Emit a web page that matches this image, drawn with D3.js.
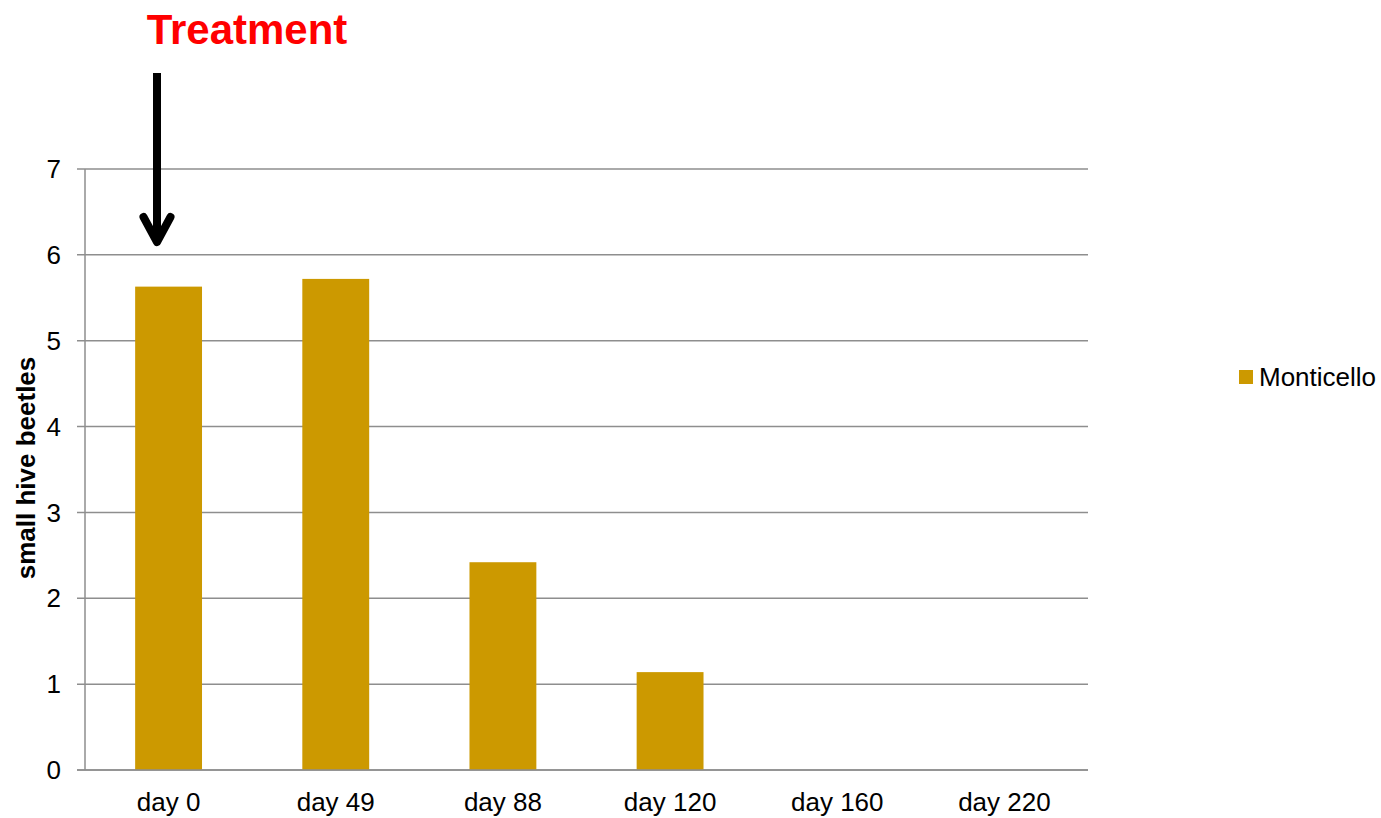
<!DOCTYPE html>
<html><head><meta charset="utf-8">
<script src="https://cdn.jsdelivr.net/npm/d3@7"></script>
<style>body{margin:0;background:#fff;}svg{display:block;font-family:"Liberation Sans",Arial,sans-serif;}</style>
</head><body>
<svg id="c" width="1381" height="818"></svg>
<script>
const categories = ["day 0","day 49","day 88","day 120","day 160","day 220"];
const values = [5.63, 5.72, 2.42, 1.14, 0, 0];
const yTicks = [0,1,2,3,4,5,6,7];
const seriesName = "Monticello";

(function(){
const svg = d3.select("#c");
const pL = 85, pR = 1088, pT = 169, pB = 770;
const x = d3.scaleBand().domain(categories).range([pL, pR]).paddingInner(0.6).paddingOuter(0.3);
const y = d3.scaleLinear().domain([0,7]).range([pB, pT]);
const grid = "#8e8e8e";

svg.append("g").selectAll("line").data(yTicks).join("line")
  .attr("x1", pL - 8).attr("x2", pR)
  .attr("y1", d => y(d)).attr("y2", d => y(d))
  .attr("stroke", grid).attr("stroke-width", 1.5);
svg.append("line").attr("x1", pL).attr("x2", pL).attr("y1", pT).attr("y2", pB)
  .attr("stroke", grid).attr("stroke-width", 1.5);

svg.append("g").selectAll("rect").data(values).join("rect")
  .attr("x", (d,i) => x(categories[i]))
  .attr("width", x.bandwidth())
  .attr("y", d => y(d))
  .attr("height", d => pB - y(d))
  .attr("fill", "#CC9900");

svg.append("line").attr("x1", pL - 8).attr("x2", pR).attr("y1", pB).attr("y2", pB)
  .attr("stroke", grid).attr("stroke-width", 1.5);

svg.append("g").selectAll("text").data(yTicks).join("text")
  .attr("x", 61).attr("y", d => y(d)).attr("dy", "0.35em")
  .attr("text-anchor", "end").attr("font-size", 26).attr("fill", "#000").text(d => d);

svg.append("g").selectAll("text").data(categories).join("text")
  .attr("x", d => x(d) + x.bandwidth()/2).attr("y", 811)
  .attr("text-anchor", "middle").attr("font-size", 26).attr("fill", "#000").text(d => d);

svg.append("text").attr("transform", `translate(35,468) rotate(-90)`)
  .attr("text-anchor", "middle").attr("font-size", 26).attr("font-weight", "bold").text("small hive beetles");

svg.append("rect").attr("x", 1239).attr("y", 370).attr("width", 14).attr("height", 14).attr("fill", "#CC9900");
svg.append("text").attr("x", 1259).attr("y", 377).attr("dy", "0.35em").attr("font-size", 26).text(seriesName);

svg.append("text").attr("x", 247).attr("y", 44).attr("text-anchor", "middle")
  .attr("font-size", 42).attr("font-weight", "bold").attr("fill", "#ff0000").text("Treatment");
const ax = 157;
svg.append("line").attr("x1", ax).attr("x2", ax).attr("y1", 73).attr("y2", 242)
  .attr("stroke", "#000").attr("stroke-width", 8);
svg.append("path").attr("d", `M${ax-13.5},217 L${ax},242 L${ax+13.5},217`)
  .attr("fill", "none").attr("stroke", "#000").attr("stroke-width", 8)
  .attr("stroke-linecap", "round").attr("stroke-linejoin", "round");
})();
</script>
</body></html>
